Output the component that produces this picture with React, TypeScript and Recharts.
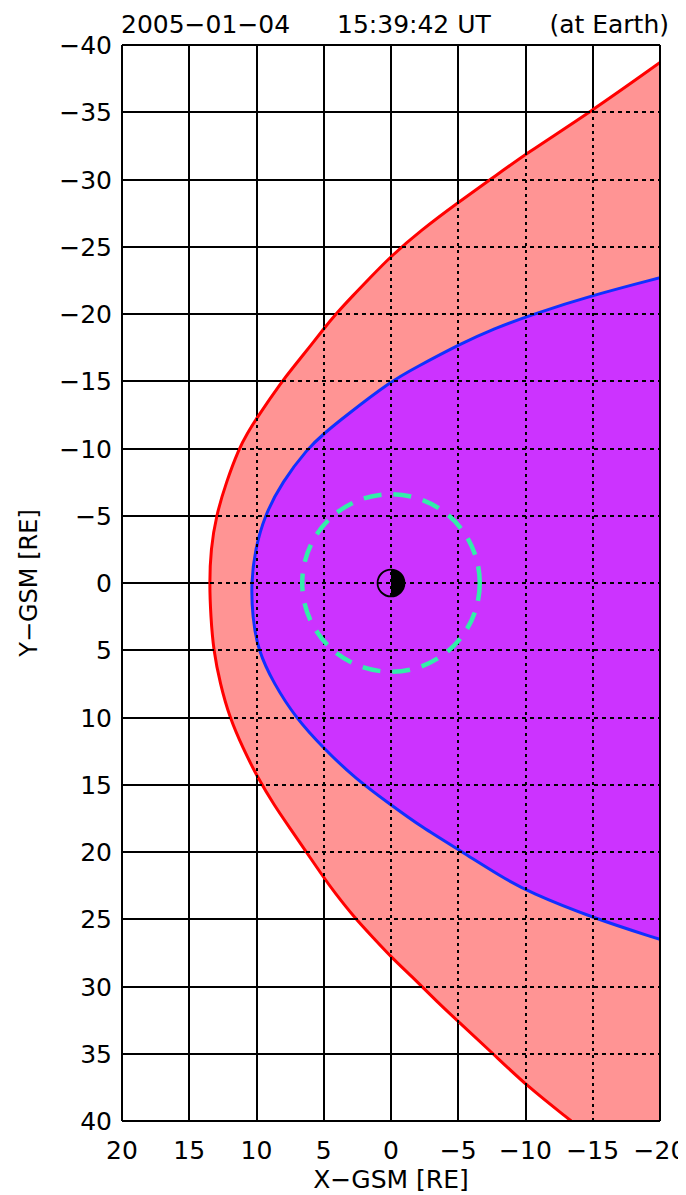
import React from "react";
import {
  ComposedChart,
  Area,
  XAxis,
  YAxis,
  CartesianGrid,
  ReferenceLine,
  ReferenceDot,
  Label,
} from "recharts";

// Y-GSM positions (RE) at which the two boundaries were read
const Y_GSM = [
  -38.7, -35, -31.9, -30, -28.3, -26.2, -24.3, -22.7, -21.4, -20, -18.9, -17.8,
  -16, -15, -12.4, -11.1, -10, -7.5, -5, -2.5, 0, 2.5, 5, 7.5, 10, 12.3, 14.5,
  16.5, 18.1, 20, 21.9, 23, 24.9, 26.5, 27.8, 29.4, 31.1, 32.7, 35, 37.4, 40,
];
// Bow shock X-GSM (red)
const X_BOW = [
  -20, -14.8, -10, -7.4, -5, -2.2, 0, 1.55, 2.8, 4.1, 5.0, 5.85, 7.3, 8.1, 9.9,
  10.7, 11.3, 12.25, 13.0, 13.4, 13.5, 13.4, 13.2, 12.7, 12.0, 11.0, 9.9, 8.7,
  7.6, 6.3, 5, 4.2, 2.7, 1.2, 0, -1.7, -3.4, -5.1, -7.6, -10.1, -13.4,
];
// Magnetopause X-GSM (blue)
const X_MP: (number | null)[] = [
  null, null, null, null, null, null, null, -20, -15, -10.6, -7.6, -5.2, -1.8, 0,
  3.4, 5, 6.2, 8.1, 9.4, 10.1, 10.4, 10.3, 9.9, 8.7, 7.1, 5, 2.7, 0, -2.2, -5.3,
  -8.3, -10.3, -15, -20, null, null, null, null, null, null, null,
];

const X_TICKS = [20, 15, 10, 5, 0, -5, -10, -15, -20];
const Y_TICKS = [-40, -35, -30, -25, -20, -15, -10, -5, 0, 5, 10, 15, 20, 25, 30, 35, 40];
const X_INNER = [15, 10, 5, 0, -5, -10, -15];
const Y_INNER = [-35, -30, -25, -20, -15, -10, -5, 0, 5, 10, 15, 20, 25, 30, 35];

const GEO_ORBIT_RE = 6.6;
const EARTH_RE = 1;

const TITLE_DATE = "2005−01−04";
const TITLE_TIME = "15:39:42 UT";
const TITLE_NOTE = "(at Earth)";
const X_TITLE = "X−GSM [RE]";
const Y_TITLE = "Y−GSM [RE]";

const data = Y_GSM.map((y, i) => ({ y, bow: X_BOW[i], mp: X_MP[i] }));

const W = 678;
const H = 1187;
const M = { top: 37, right: 26, bottom: 7, left: 0 };
const YAXIS_W = 114;
const XAXIS_H = 67;
const PLOT_W = W - M.left - M.right - YAXIS_W;
const PX_PER_RE = PLOT_W / 40;
const Y_MIN = -40;
const Y_MAX = 40;

const FONT = "'DejaVu Sans', sans-serif";

const fmt = (v: number) => (v < 0 ? "−" + Math.abs(v) : String(v));

const YTick = (props: any) => {
  const { x, y, payload } = props;
  return (
    <text x={x} y={y + 9} textAnchor="end" fontFamily={FONT} fontSize={25} fill="#000">
      {fmt(payload.value)}
    </text>
  );
};

const XTick = (props: any) => {
  const { x, y, payload } = props;
  return (
    <text x={x} y={y + 38} textAnchor="middle" fontFamily={FONT} fontSize={25} fill="#000">
      {fmt(payload.value)}
    </text>
  );
};

const EarthShape = (props: any) => {
  const { cx, cy } = props;
  const r = EARTH_RE * PX_PER_RE;
  return (
    <g>
      <circle cx={cx} cy={cy} r={r} fill="none" stroke="#000" strokeWidth={1.8} />
      <path d={`M ${cx} ${cy - r} A ${r} ${r} 0 0 1 ${cx} ${cy + r} Z`} fill="#000" />
    </g>
  );
};

export default function App() {
  return (
    <div style={{ position: "relative", width: W, height: H }}>
      <ComposedChart layout="vertical" width={W} height={H} data={data} margin={M}>
        <CartesianGrid stroke="#000" strokeWidth={2} shapeRendering="crispEdges" />
        <XAxis
          type="number"
          domain={[-20, 20]}
          reversed
          ticks={X_TICKS}
          allowDataOverflow
          axisLine={false}
          tickLine={false}
          tickSize={0}
          tickMargin={0}
          height={XAXIS_H}
          tick={<XTick />}
          interval={0}
        >
          <Label
            content={(p: any) => {
              const vb = p.viewBox || {};
              return (
                <text
                  x={vb.x + vb.width / 2}
                  y={vb.y + vb.height}
                  textAnchor="middle"
                  fontFamily={FONT}
                  fontSize={25}
                  fill="#000"
                >
                  {X_TITLE}
                </text>
              );
            }}
          />
        </XAxis>
        <YAxis
          type="number"
          dataKey="y"
          domain={[Y_MIN, Y_MAX]}
          ticks={Y_TICKS}
          allowDataOverflow
          axisLine={false}
          tickLine={false}
          tickSize={0}
          tickMargin={10}
          width={YAXIS_W}
          tick={<YTick />}
          interval={0}
        >
          <Label
            content={(p: any) => {
              const vb = p.viewBox || {};
              const cx = vb.x + 21;
              const cy = vb.y + vb.height / 2;
              return (
                <text
                  x={cx}
                  y={cy}
                  transform={`rotate(-90 ${cx} ${cy})`}
                  textAnchor="middle"
                  dominantBaseline="central"
                  fontFamily={FONT}
                  fontSize={24}
                  fill="#000"
                >
                  {Y_TITLE}
                </text>
              );
            }}
          />
        </YAxis>

        <Area
          dataKey="bow"
          type="basis"
          baseValue={-20}
          fill="#ff9494"
          fillOpacity={1}
          stroke="none"
          isAnimationActive={false}
          dot={false}
          activeDot={false}
        />
        <Area
          dataKey="mp"
          type="basis"
          baseValue={-20}
          fill="#cc33ff"
          fillOpacity={1}
          stroke="none"
          isAnimationActive={false}
          dot={false}
          activeDot={false}
        />

        {X_INNER.map((v) => (
          <ReferenceLine
            key={"vx" + v}
            x={v}
            stroke="#000"
            strokeWidth={2}
            strokeDasharray="3 4"
            shapeRendering="crispEdges"
          />
        ))}
        {Y_INNER.map((v) => (
          <ReferenceLine
            key={"hy" + v}
            y={v}
            stroke="#000"
            strokeWidth={2}
            strokeDasharray="4 4"
            shapeRendering="crispEdges"
          />
        ))}
        <ReferenceLine x={20} stroke="#000" strokeWidth={2} shapeRendering="crispEdges" />
        <ReferenceLine x={-20} stroke="#000" strokeWidth={2} shapeRendering="crispEdges" />
        <ReferenceLine y={Y_MIN} stroke="#000" strokeWidth={2} shapeRendering="crispEdges" />
        <ReferenceLine y={Y_MAX} stroke="#000" strokeWidth={2} shapeRendering="crispEdges" />

        <Area
          dataKey="bow"
          type="basis"
          baseValue={-20}
          fill="none"
          fillOpacity={0}
          stroke="#ff0000"
          strokeWidth={3}
          isAnimationActive={false}
          dot={false}
          activeDot={false}
        />
        <Area
          dataKey="mp"
          type="basis"
          baseValue={-20}
          fill="none"
          fillOpacity={0}
          stroke="#1030ff"
          strokeWidth={3}
          isAnimationActive={false}
          dot={false}
          activeDot={false}
        />

        <ReferenceDot
          x={0}
          y={0}
          r={GEO_ORBIT_RE * PX_PER_RE}
          fill="none"
          stroke="#33eeaa"
          strokeWidth={4.5}
          strokeDasharray="18 12"
        />
        <ReferenceDot x={0} y={0} r={EARTH_RE * PX_PER_RE} shape={<EarthShape />} />
      </ComposedChart>
      <svg
        width={W}
        height={M.top}
        style={{ position: "absolute", left: 0, top: 0, pointerEvents: "none" }}
      >
        <text x={113} y={25} fontFamily={FONT} fontSize={25} fill="#000">
          {TITLE_DATE}
        </text>
        <text x={329} y={25} fontFamily={FONT} fontSize={25} fill="#000">
          {TITLE_TIME}
        </text>
        <text x={661} y={25} textAnchor="end" fontFamily={FONT} fontSize={25} fill="#000">
          {TITLE_NOTE}
        </text>
      </svg>
    </div>
  );
}
